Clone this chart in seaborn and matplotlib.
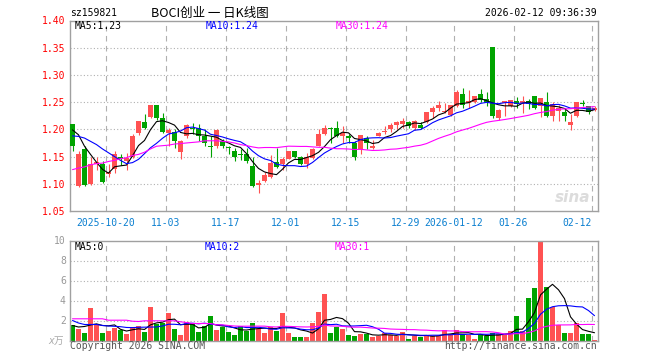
import numpy as np
import pandas as pd
import matplotlib
matplotlib.use("Agg")
import matplotlib.pyplot as plt
import seaborn as sns

# ---------------- data ----------------
opens = [1.210, 1.096, 1.163, 1.099, 1.137, 1.137, 1.118, 1.127, 1.150, 1.141,
         1.150, 1.194, 1.213, 1.222, 1.245, 1.221, 1.194, 1.196, 1.158, 1.187,
         1.203, 1.202, 1.188, 1.170, 1.170, 1.178, 1.167, 1.160, 1.154, 1.155,
         1.132, 1.097, 1.105, 1.113, 1.140, 1.137, 1.146, 1.160, 1.149, 1.137,
         1.147, 1.170, 1.192, 1.203, 1.202, 1.188, 1.188, 1.175, 1.163, 1.184,
         1.166, 1.188, 1.195, 1.201, 1.208, 1.210, 1.213, 1.202, 1.208, 1.213,
         1.231, 1.240, 1.232, 1.227, 1.242, 1.265, 1.249, 1.251, 1.265, 1.255,
         1.352, 1.220, 1.249, 1.242, 1.252, 1.248, 1.252, 1.262, 1.242, 1.251,
         1.224, 1.233, 1.231, 1.208, 1.224, 1.248, 1.243, 1.236]
highs = [1.210, 1.160, 1.170, 1.150, 1.150, 1.141, 1.137, 1.161, 1.155, 1.157,
         1.191, 1.215, 1.229, 1.245, 1.245, 1.230, 1.202, 1.200, 1.180, 1.210,
         1.211, 1.210, 1.200, 1.187, 1.200, 1.182, 1.170, 1.166, 1.163, 1.166,
         1.150, 1.107, 1.121, 1.152, 1.166, 1.150, 1.161, 1.161, 1.151, 1.157,
         1.166, 1.200, 1.208, 1.205, 1.216, 1.207, 1.192, 1.178, 1.190, 1.187,
         1.181, 1.195, 1.207, 1.211, 1.216, 1.221, 1.216, 1.218, 1.214, 1.232,
         1.242, 1.253, 1.249, 1.245, 1.273, 1.276, 1.273, 1.262, 1.274, 1.269,
         1.352, 1.237, 1.252, 1.254, 1.260, 1.261, 1.256, 1.262, 1.257, 1.269,
         1.251, 1.245, 1.239, 1.229, 1.251, 1.254, 1.243, 1.242]
lows = [1.161, 1.094, 1.096, 1.098, 1.125, 1.101, 1.113, 1.120, 1.135, 1.125,
        1.148, 1.189, 1.200, 1.220, 1.218, 1.193, 1.169, 1.166, 1.146, 1.185,
        1.191, 1.179, 1.170, 1.150, 1.166, 1.166, 1.155, 1.141, 1.144, 1.139,
        1.094, 1.083, 1.103, 1.111, 1.129, 1.126, 1.145, 1.148, 1.135, 1.129,
        1.146, 1.169, 1.190, 1.175, 1.186, 1.175, 1.175, 1.144, 1.154, 1.164,
        1.164, 1.187, 1.192, 1.196, 1.201, 1.202, 1.202, 1.198, 1.200, 1.211,
        1.221, 1.233, 1.230, 1.225, 1.241, 1.239, 1.239, 1.248, 1.251, 1.243,
        1.220, 1.218, 1.225, 1.241, 1.239, 1.230, 1.238, 1.238, 1.222, 1.222,
        1.216, 1.216, 1.215, 1.199, 1.222, 1.243, 1.229, 1.233]
closes = [1.169, 1.155, 1.097, 1.137, 1.140, 1.103, 1.121, 1.155, 1.146, 1.147,
          1.188, 1.215, 1.202, 1.245, 1.221, 1.196, 1.199, 1.178, 1.178, 1.208,
          1.200, 1.187, 1.175, 1.168, 1.198, 1.169, 1.165, 1.149, 1.153, 1.141,
          1.096, 1.102, 1.117, 1.138, 1.131, 1.146, 1.160, 1.149, 1.137, 1.149,
          1.163, 1.191, 1.202, 1.200, 1.187, 1.194, 1.185, 1.150, 1.190, 1.175,
          1.170, 1.194, 1.196, 1.208, 1.213, 1.216, 1.207, 1.215, 1.202, 1.232,
          1.239, 1.245, 1.234, 1.245, 1.269, 1.245, 1.252, 1.262, 1.254, 1.251,
          1.224, 1.235, 1.252, 1.254, 1.247, 1.252, 1.247, 1.239, 1.257, 1.224,
          1.247, 1.240, 1.224, 1.213, 1.251, 1.246, 1.231, 1.240]
volumes = [1.57, 1.17, 0.77, 3.23, 1.57, 0.77, 1.00, 1.23, 1.03, 0.70,
           1.40, 1.50, 0.90, 3.33, 1.67, 1.77, 2.73, 1.20, 0.53, 1.90,
           1.77, 0.90, 1.50, 2.43, 1.10, 1.33, 0.90, 0.53, 1.50, 0.97,
           1.80, 1.17, 0.73, 1.37, 0.93, 2.80, 0.80, 0.40, 0.40, 0.33,
           1.80, 2.90, 4.70, 0.80, 1.33, 1.20, 0.60, 0.50, 0.70, 0.70,
           0.33, 0.43, 0.73, 0.60, 0.50, 0.90, 0.20, 0.43, 0.40, 0.60,
           0.50, 0.43, 1.07, 0.67, 1.07, 0.57, 0.57, 0.20, 0.67, 0.43,
           0.80, 0.63, 0.63, 1.00, 2.50, 0.93, 4.30, 5.23, 9.83, 5.33,
           3.40, 1.57, 0.80, 0.73, 1.73, 0.63, 0.70, 0.10]

# moving-average values visible before enough in-window history exists
ma5_head = [1.199, 1.190, 1.169, 1.154]
ma10_head = [1.188, 1.187, 1.184, 1.178, 1.172, 1.164, 1.157, 1.150, 1.143]
ma30_head = [1.126, 1.129, 1.131, 1.135, 1.137, 1.138, 1.141, 1.143, 1.146, 1.148,
             1.152, 1.154, 1.158, 1.164, 1.169, 1.170, 1.171, 1.173, 1.174, 1.175,
             1.176, 1.177, 1.179, 1.179, 1.179, 1.178, 1.177, 1.175, 1.172]
vol_ma5_head = [1.50, 1.35, 1.40, 1.55]
vol_ma10_head = [2.00, 1.75, 1.60, 1.60, 1.60, 1.50, 1.45, 1.42, 1.38]
vol_ma30_head = [2.17, 2.17, 2.17, 2.17, 2.17, 2.17, 2.03, 2.03, 2.03, 2.03,
                 1.93, 1.90, 1.97, 1.97, 1.97, 1.97, 1.97, 1.97, 1.87, 1.80,
                 1.70, 1.70, 1.70, 1.70, 1.57, 1.57, 1.50, 1.45, 1.43]

tick_idx = [6, 16, 26, 36, 46, 56, 64, 74, 87]
tick_labels = ["2025-10-20", "11-03", "11-17", "12-01", "12-15",
               "12-29", "2026-01-12", "01-26", "02-12"]
price_ticks = [1.05, 1.10, 1.15, 1.20, 1.25, 1.30, 1.35, 1.40]
vol_ticks = [2, 4, 6, 8, 10]

code_text = "sz159821"
title_text = "BOCI创业 一 日K线图"
time_text = "2026-02-12 09:36:39"
price_ma_texts = ["MA5:1.23", "MA10:1.24", "MA30:1.24"]
vol_ma_texts = ["MA5:0", "MA10:2", "MA30:1"]

# ---------------- style ----------------
sns.set_theme(style="white")
plt.rcParams['font.family'] = ['DejaVu Sans Mono', 'Noto Sans CJK SC']

RED = '#ff5252'
GREEN = '#00a300'
GRID = '#b0b0b0'
BORDER = '#a0a0a0'
MA_COLORS = ['black', '#0000ff', '#ff00ff']
FS = 7.0


def moving(values, window, head):
    s = pd.Series(values, dtype=float).rolling(window).mean()
    s.iloc[:len(head)] = head
    return s.values


n = len(closes)
df = pd.DataFrame({
    'idx': np.arange(n),
    'open': opens, 'high': highs, 'low': lows, 'close': closes,
    'vol': volumes,
})
df['up'] = df['close'] >= df['open']
df['ma5'] = moving(closes, 5, ma5_head)
df['ma10'] = moving(closes, 10, ma10_head)
df['ma30'] = moving(closes, 30, ma30_head)
df['vma5'] = moving(volumes, 5, vol_ma5_head)
df['vma10'] = moving(volumes, 10, vol_ma10_head)
df['vma30'] = moving(volumes, 30, vol_ma30_head)
colors = np.where(df['up'], RED, GREEN)

W, H = 660, 360
fig = plt.figure(figsize=(W / 100, H / 100), dpi=100)
fig.patch.set_facecolor('white')


def rect(l, t, r, b):
    return [l / W, 1 - b / H, (r - l) / W, (b - t) / H]


ax = fig.add_axes(rect(70, 20.5, 598, 211))
axv = fig.add_axes(rect(70, 240.5, 598, 340.5))

xlo, xhi = -2.5 / 6, (598 - 72.5) / 6
bw = 5 / 6
grid_x = [t - 0.5 for t in tick_idx]

# ---- price panel ----
ax.vlines(df['idx'], df['low'], df['high'], colors=colors, lw=0.8, zorder=2)
body_bottom = np.minimum(df['open'], df['close'])
body_h = np.maximum(np.abs(df['close'] - df['open']), 0.0013)
ax.bar(df['idx'], body_h, bottom=body_bottom, width=bw, color=colors,
       linewidth=0, zorder=3)
for col, c in zip(['ma5', 'ma10', 'ma30'], MA_COLORS):
    sns.lineplot(data=df, x='idx', y=col, ax=ax, color=c, lw=0.8, zorder=4)

ax.set_xlim(xlo, xhi)
ax.set_ylim(1.05, 1.40)
ax.set_yticks(price_ticks)
ax.set_yticklabels([f"{v:.2f}" for v in price_ticks], color='#ff0000', fontsize=FS)
ax.set_xticks(grid_x)
ax.set_xticklabels(tick_labels, color='#0a7fd0', fontsize=FS)
ax.get_xticklabels()[-1].set_horizontalalignment('right')
ax.tick_params(axis='both', length=0, pad=3)
ax.tick_params(axis='x', pad=5)
for yv in price_ticks[1:-1]:
    ax.axhline(yv, color=GRID, lw=0.8, ls=(0, (1, 2)), zorder=1)
for xv in grid_x:
    ax.axvline(xv, color=GRID, lw=0.8, ls=(0, (5, 4)), zorder=1)
ax.set_xlabel('')
ax.set_ylabel('')

# watermark
ax.text(0.985, 0.03, 'sina', transform=ax.transAxes, ha='right', va='bottom',
        fontsize=11, fontstyle='italic', fontweight='bold', color='#dcdcdc',
        family='DejaVu Sans', zorder=0)

# ---- volume panel ----
axv.bar(df['idx'], df['vol'], width=bw, color=colors, linewidth=0, zorder=2)
for col, c in zip(['vma5', 'vma10', 'vma30'], MA_COLORS):
    sns.lineplot(data=df, x='idx', y=col, ax=axv, color=c, lw=0.8, zorder=4)
axv.set_xlim(xlo, xhi)
axv.set_ylim(0, 10)
axv.set_yticks(vol_ticks)
axv.set_yticklabels([str(v) for v in vol_ticks], color='#999999', fontsize=FS)
axv.set_xticks([])
axv.tick_params(axis='both', length=0, pad=3)
for yv in vol_ticks[:-1]:
    axv.axhline(yv, color=GRID, lw=0.8, ls=(0, (1, 2)), zorder=1)
for xv in grid_x:
    axv.axvline(xv, color=GRID, lw=0.8, ls=(0, (5, 4)), zorder=1)
axv.set_xlabel('')
axv.set_ylabel('')

for a in (ax, axv):
    a.set_facecolor('white')
    for sp in a.spines.values():
        sp.set_visible(True)
        sp.set_color(BORDER)
        sp.set_linewidth(1.0)


def ftext(x, y, s, **kw):
    fig.text(x / W, 1 - y / H, s, va='center', **kw)


ftext(70, 13, code_text, fontsize=FS, color='black', ha='left')
ftext(151, 13, title_text, fontsize=9, color='black', ha='left',
      family=['Noto Sans CJK SC', 'DejaVu Sans'])
ftext(597, 13, time_text, fontsize=FS, color='black', ha='right')

for x0, s, c in zip([75, 206, 336], price_ma_texts, MA_COLORS):
    ftext(x0, 26, s, fontsize=FS, color=c, ha='left')
for x0, s, c in zip([75, 205, 335], vol_ma_texts, MA_COLORS):
    ftext(x0, 247, s, fontsize=FS, color=c, ha='left')

ftext(64, 341, 'x万', fontsize=7, color='#aaaaaa', ha='right', fontstyle='italic')
ftext(70, 346, 'Copyright 2026 SINA.COM', fontsize=FS, color='#555555', ha='left')
ftext(597, 346, 'http://finance.sina.com.cn', fontsize=FS, color='#555555', ha='right')

fig.savefig('out.png', dpi=100, facecolor='white')
